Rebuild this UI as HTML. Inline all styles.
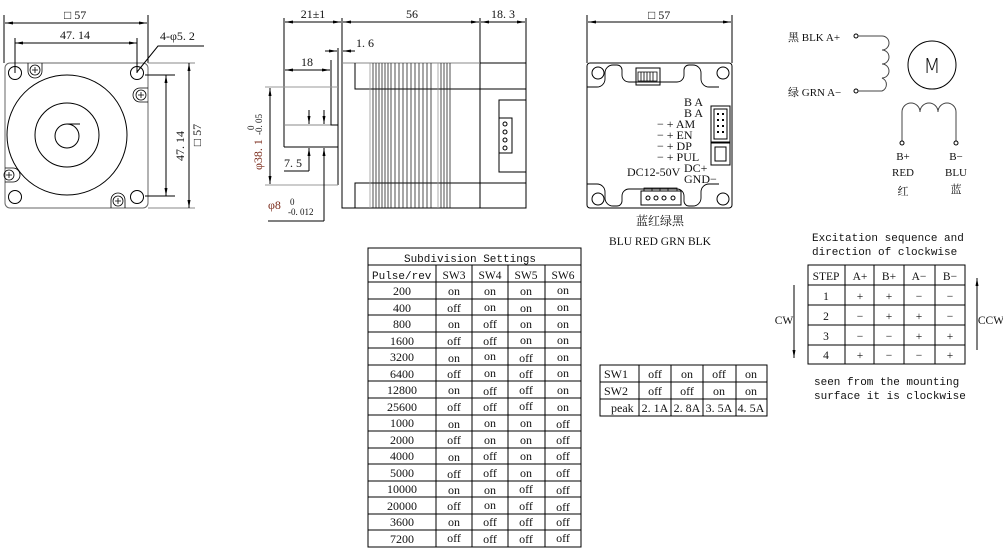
<!DOCTYPE html>
<html><head><meta charset="utf-8"><style>
html,body{margin:0;padding:0;background:#fff;}
svg{display:block;}
text{font-family:"Liberation Serif","Noto Serif CJK SC",serif;fill:#111;}
.m{font-family:"Liberation Mono","Noto Sans CJK SC",monospace;}
</style></head><body>
<svg width="1003" height="550" viewBox="0 0 1003 550" xmlns="http://www.w3.org/2000/svg">
<defs>
<marker id="a" markerWidth="8" markerHeight="6" refX="8" refY="3" orient="auto-start-reverse" markerUnits="userSpaceOnUse"><path d="M0,1.5 L8,3 L0,4.5z" fill="#000"/></marker>
</defs>
<g stroke="#000" fill="none" stroke-width="1">
<rect x="5" y="63" width="143" height="145" rx="5" stroke="#666"/>
<circle cx="15" cy="73" r="6.5"/><circle cx="137" cy="73" r="6.5"/><circle cx="15" cy="197" r="6.5"/><circle cx="137" cy="197" r="6.5"/>
<circle cx="67" cy="135" r="60"/><circle cx="67" cy="135" r="32"/><circle cx="67" cy="136" r="12"/>
<line x1="67" y1="124" x2="80" y2="124"/>
<g stroke-width="0.8"><circle cx="35" cy="70" r="5"/><circle cx="141" cy="95" r="5"/><circle cx="9" cy="175" r="5"/><circle cx="118" cy="201" r="5"/>
<path d="M28,63 v8 a7 7 0 0 0 14 0 v-8 M148,88 h-8 a7 7 0 0 0 0 14 h8 M5,168 h8 a7 7 0 0 1 0 14 h-8 M111,208 v-8 a7 7 0 0 1 14 0 v8"/>
<path d="M32,70h6M35,67v6M138,95h6M141,92v6M6,175h6M9,172v6M115,201h6M118,198v6"/></g>
<line x1="4" y1="15" x2="4" y2="63"/><line x1="148" y1="15" x2="148" y2="63"/>
<line x1="5" y1="23" x2="147" y2="23" marker-start="url(#a)" marker-end="url(#a)"/>
<line x1="15" y1="38" x2="15" y2="73"/><line x1="137" y1="38" x2="137" y2="73"/>
<line x1="15" y1="43" x2="137" y2="43" marker-start="url(#a)" marker-end="url(#a)"/>
<polyline points="137,72 158,46 204,46"/>
<line x1="145" y1="75" x2="175" y2="75"/><line x1="145" y1="196" x2="175" y2="196"/>
<line x1="166" y1="75" x2="166" y2="196" marker-start="url(#a)" marker-end="url(#a)"/>
<line x1="148" y1="63" x2="195" y2="63" stroke="#888"/><line x1="148" y1="208" x2="195" y2="208" stroke="#888"/>
<line x1="189" y1="63" x2="189" y2="208" marker-start="url(#a)" marker-end="url(#a)"/>

<line x1="284" y1="18" x2="284" y2="147"/><line x1="342" y1="18" x2="342" y2="63"/><line x1="480" y1="18" x2="480" y2="208"/><line x1="526" y1="18" x2="526" y2="63"/>
<line x1="285" y1="22" x2="341" y2="22" marker-start="url(#a)" marker-end="url(#a)"/>
<line x1="343" y1="22" x2="479" y2="22" marker-start="url(#a)" marker-end="url(#a)"/>
<line x1="481" y1="22" x2="525" y2="22" marker-start="url(#a)" marker-end="url(#a)"/>
<line x1="338" y1="48" x2="338" y2="185"/>
<line x1="325" y1="51" x2="337" y2="51" marker-end="url(#a)"/><line x1="355" y1="51" x2="343" y2="51" marker-end="url(#a)"/>
<rect x="342" y="63" width="184" height="145"/>
<line x1="342" y1="63" x2="480" y2="63" stroke="#888"/>
<polyline points="355,63 355,89 526,89"/><polyline points="355,208 355,183 526,183"/>
<g stroke-width="0.8" stroke="#222">
<line x1="370" y1="63" x2="370" y2="208" stroke="#999"/>
<line x1="373" y1="63" x2="373" y2="208"/><line x1="376" y1="63" x2="376" y2="208"/><line x1="379" y1="63" x2="379" y2="208"/><line x1="382" y1="63" x2="382" y2="208"/><line x1="385" y1="63" x2="385" y2="208"/><line x1="388" y1="63" x2="388" y2="208"/><line x1="391" y1="63" x2="391" y2="208"/><line x1="395" y1="63" x2="395" y2="208"/><line x1="399" y1="63" x2="399" y2="208"/><line x1="403" y1="63" x2="403" y2="208"/><line x1="407" y1="63" x2="407" y2="208"/><line x1="411" y1="63" x2="411" y2="208"/><line x1="415" y1="63" x2="415" y2="208"/><line x1="419" y1="63" x2="419" y2="208"/><line x1="423" y1="63" x2="423" y2="208"/><line x1="427" y1="63" x2="427" y2="208"/><line x1="431" y1="63" x2="431" y2="208"/><line x1="438" y1="63" x2="438" y2="208" stroke="#999"/><line x1="441" y1="63" x2="441" y2="208"/><line x1="444" y1="63" x2="444" y2="208"/><line x1="447" y1="63" x2="447" y2="208"/><line x1="450" y1="63" x2="450" y2="208"/>
</g>
<polyline points="526,100 499,100 499,172 526,172"/>
<rect x="499" y="118" width="13" height="35"/>
<circle cx="505" cy="124" r="2"/><circle cx="505" cy="132" r="2"/><circle cx="505" cy="140" r="2"/><circle cx="505" cy="148" r="2"/>
<polyline points="284,147 338,147"/><line x1="284" y1="125" x2="331" y2="125" stroke="#888"/>
<polyline points="331,60 331,125 338,125"/>
<line x1="285" y1="70" x2="330" y2="70" marker-start="url(#a)" marker-end="url(#a)"/>
<line x1="265" y1="87" x2="338" y2="87" stroke="#999"/><line x1="265" y1="185" x2="338" y2="185" stroke="#999"/>
<line x1="270" y1="88" x2="270" y2="184" marker-start="url(#a)" marker-end="url(#a)"/>
<line x1="309" y1="110" x2="309" y2="124" marker-end="url(#a)"/><line x1="309" y1="171" x2="309" y2="148" marker-end="url(#a)"/>
<line x1="324" y1="110" x2="324" y2="124" marker-end="url(#a)"/><line x1="324" y1="221" x2="324" y2="148" marker-end="url(#a)"/>
<line x1="284" y1="171" x2="309" y2="171"/><line x1="268" y1="221" x2="324" y2="221"/>

<line x1="587" y1="15" x2="587" y2="63"/><line x1="732" y1="15" x2="732" y2="63"/>
<line x1="588" y1="22" x2="731" y2="22" marker-start="url(#a)" marker-end="url(#a)"/>
<rect x="587" y="63" width="145" height="145" rx="3"/>
<path d="M587,87 h10 a8 8 0 0 0 8 -8 v-6 a8 8 0 0 1 8 -8 h4 a5 5 0 0 1 5 5 v5 a7 7 0 0 0 7 7 h48 a7 7 0 0 0 7 -7 v-5 a5 5 0 0 1 5 -5 h4 a8 8 0 0 1 8 8 v6 a8 8 0 0 0 8 8 h10" stroke-width="0.9"/>
<path d="M587,184 h10 a8 8 0 0 1 8 8 v6 a8 8 0 0 0 8 8 h4 a5 5 0 0 0 5 -5 v-5 a7 7 0 0 1 7 -7 h48 a7 7 0 0 1 7 7 v5 a5 5 0 0 0 5 5 h4 a8 8 0 0 0 8 -8 v-6 a8 8 0 0 1 8 -8 h10" stroke-width="0.9"/>
<circle cx="598" cy="73" r="6"/><circle cx="723" cy="73" r="6"/><circle cx="598" cy="199" r="6"/><circle cx="723" cy="199" r="6"/>
<rect x="636" y="68" width="24" height="17"/>
<path d="M638,72h19v9h-19z M641,72v9 M644,72v9 M647,72v9 M650,72v9 M653,72v9" stroke-width="0.8"/>
<rect x="711" y="106" width="19" height="36"/><rect x="714" y="109" width="13" height="30"/>
<g fill="#000" stroke="none"><rect x="717" y="113" width="2" height="2"/><rect x="722" y="113" width="2" height="2"/><rect x="717" y="119" width="2" height="2"/><rect x="722" y="119" width="2" height="2"/><rect x="717" y="125" width="2" height="2"/><rect x="722" y="125" width="2" height="2"/><rect x="717" y="131" width="2" height="2"/><rect x="722" y="131" width="2" height="2"/></g>
<rect x="711" y="143" width="19" height="22"/><rect x="715" y="147" width="11" height="14"/>
<rect x="641" y="191" width="40" height="14"/>
<circle cx="648" cy="198" r="2"/><circle cx="656" cy="198" r="2"/><circle cx="664" cy="198" r="2"/><circle cx="673" cy="198" r="2"/>
<path d="M644,191v-3h8v3 M652,191v-3h8v3 M660,191v-3h8v3 M668,191v-3h9v3" stroke-width="0.8"/>

<circle cx="856" cy="36" r="2"/><circle cx="856" cy="91" r="2"/>
<path d="M858,36 H882 a7 7 0 0 1 0 14 a7 7 0 0 1 0 14 a7 7 0 0 1 0 14 a7 7 0 0 1 0 13 H858" stroke="#444"/>
<circle cx="932" cy="65" r="24"/>
<path d="M902,141 V112 a9 9 0 0 1 18 0 a9 9 0 0 1 18 0 a9 9 0 0 1 18 0 V141" stroke="#444"/>
<circle cx="902" cy="143" r="2"/><circle cx="956" cy="143" r="2"/>

<rect x="808" y="265" width="157" height="99"/>
<line x1="808" y1="285" x2="965" y2="285"/><line x1="808" y1="305" x2="965" y2="305"/><line x1="808" y1="325" x2="965" y2="325"/><line x1="808" y1="345" x2="965" y2="345"/>
<line x1="845" y1="265" x2="845" y2="364"/><line x1="874" y1="265" x2="874" y2="364"/><line x1="904" y1="265" x2="904" y2="364"/><line x1="935" y1="265" x2="935" y2="364"/>
<line x1="794" y1="285" x2="794" y2="358" marker-end="url(#a)"/>
<line x1="977" y1="350" x2="977" y2="278" marker-end="url(#a)"/>

<rect x="368" y="248" width="213" height="299"/>
<line x1="368" y1="265" x2="581" y2="265"/>
<line x1="436" y1="265" x2="436" y2="547"/><line x1="472" y1="265" x2="472" y2="547"/><line x1="508" y1="265" x2="508" y2="547"/><line x1="545" y1="265" x2="545" y2="547"/>
<rect x="600" y="365" width="167" height="51"/>
<line x1="600" y1="382" x2="767" y2="382"/><line x1="600" y1="399" x2="767" y2="399"/>
<line x1="639" y1="365" x2="639" y2="416"/><line x1="671" y1="365" x2="671" y2="416"/><line x1="703" y1="365" x2="703" y2="416"/><line x1="736" y1="365" x2="736" y2="416"/>
</g>
<g stroke="#000" stroke-width="1">
<line x1="368" y1="282" x2="581" y2="282"/><line x1="368" y1="299" x2="581" y2="299"/><line x1="368" y1="315" x2="581" y2="315"/><line x1="368" y1="332" x2="581" y2="332"/><line x1="368" y1="348" x2="581" y2="348"/><line x1="368" y1="365" x2="581" y2="365"/><line x1="368" y1="381" x2="581" y2="381"/><line x1="368" y1="398" x2="581" y2="398"/><line x1="368" y1="415" x2="581" y2="415"/><line x1="368" y1="431" x2="581" y2="431"/><line x1="368" y1="448" x2="581" y2="448"/><line x1="368" y1="464" x2="581" y2="464"/><line x1="368" y1="481" x2="581" y2="481"/><line x1="368" y1="497" x2="581" y2="497"/><line x1="368" y1="514" x2="581" y2="514"/><line x1="368" y1="530" x2="581" y2="530"/>
</g>

<g font-size="12">
<text x="64" y="19">□ 57</text>
<text x="60" y="39">47. 14</text>
<text x="160" y="40">4-φ5. 2</text>
<text transform="translate(184,146) rotate(-90)" text-anchor="middle">47. 14</text>
<text transform="translate(201,135) rotate(-90)" text-anchor="middle">□ 57</text>
<text x="313" y="18" text-anchor="middle">21±1</text>
<text x="412" y="18" text-anchor="middle">56</text>
<text x="503" y="18" text-anchor="middle">18. 3</text>
<text x="356" y="47">1. 6</text>
<text x="307" y="66" text-anchor="middle">18</text>
<text x="284" y="167">7. 5</text>
<text transform="translate(262,170) rotate(-90)" style="fill:#7a2a1a">φ38. 1</text>
<text transform="translate(254,130) rotate(-90)" font-size="9">0</text>
<text transform="translate(262,135) rotate(-90)" font-size="9">-0. 05</text>
<text x="268" y="209" style="fill:#7a2a1a">φ8</text>
<text x="290" y="205" font-size="9">0</text>
<text x="288" y="215" font-size="9">-0. 012</text>
<text x="648" y="19">□ 57</text>
<text x="684" y="106">B A</text>
<text x="684" y="117">B A</text>
<text x="657" y="128">− + AM</text>
<text x="657" y="139">− + EN</text>
<text x="657" y="150">− + DP</text>
<text x="657" y="161">− + PUL</text>
<text x="684" y="172">DC+</text>
<text x="627" y="176">DC12-50V</text>
<text x="684" y="183">GND−</text>
<text x="660" y="225" text-anchor="middle">蓝红绿黑</text>
<text x="660" y="245" text-anchor="middle" font-size="11.5">BLU RED GRN BLK</text>
<text x="788" y="41" font-size="11">黑 BLK A+</text>
<text x="788" y="96" font-size="11">绿 GRN A−</text>
<text x="932" y="73" text-anchor="middle" font-size="20" style="font-family:'DejaVu Sans',sans-serif;font-weight:200">M</text>
<text x="903" y="160" text-anchor="middle" font-size="11">B+</text>
<text x="903" y="176" text-anchor="middle" font-size="11">RED</text>
<text x="903" y="195" text-anchor="middle" font-size="11">红</text>
<text x="956" y="160" text-anchor="middle" font-size="11">B−</text>
<text x="956" y="176" text-anchor="middle" font-size="11">BLU</text>
<text x="956" y="193" text-anchor="middle" font-size="11">蓝</text>
</g>
<g class="m" font-size="11">
<text x="812" y="241" class="m">Excitation sequence and</text>
<text x="812" y="255" class="m">direction of clockwise</text>
<text x="814" y="385" class="m">seen from the mounting</text>
<text x="814" y="399" class="m">surface it is clockwise</text>
<text x="470" y="262" text-anchor="middle" class="m">Subdivision Settings</text>
<text x="372" y="279" class="m">Pulse/rev</text>
</g>
<g font-size="11.5" text-anchor="middle">
<text x="826" y="280">STEP</text><text x="860" y="280">A+</text><text x="889" y="280">B+</text><text x="919" y="280">A−</text><text x="950" y="280">B−</text>
<text x="826" y="300">1</text><text x="860" y="300">+</text><text x="889" y="300">+</text><text x="919" y="300">−</text><text x="950" y="300">−</text>
<text x="826" y="320">2</text><text x="860" y="320">−</text><text x="889" y="320">+</text><text x="919" y="320">+</text><text x="950" y="320">−</text>
<text x="826" y="340">3</text><text x="860" y="340">−</text><text x="889" y="340">−</text><text x="919" y="340">+</text><text x="950" y="340">+</text>
<text x="826" y="359">4</text><text x="860" y="359">+</text><text x="889" y="359">−</text><text x="919" y="359">−</text><text x="950" y="359">+</text>
<text x="784" y="324">CW</text><text x="991" y="324">CCW</text>
<text x="454" y="279">SW3</text><text x="490" y="279">SW4</text><text x="526" y="279">SW5</text><text x="563" y="279">SW6</text>
</g>
<g font-size="12" text-anchor="middle">
<text x="402" y="295">200</text><text x="454" y="295">on</text><text x="490" y="295">on</text><text x="526" y="295">on</text><text x="563" y="294">on</text>
<text x="402" y="312">400</text><text x="454" y="312">off</text><text x="490" y="311">on</text><text x="526" y="312">on</text><text x="563" y="311">on</text>
<text x="402" y="328">800</text><text x="454" y="328">on</text><text x="490" y="328">off</text><text x="526" y="328">on</text><text x="563" y="328">on</text>
<text x="402" y="345">1600</text><text x="454" y="345">off</text><text x="490" y="345">off</text><text x="526" y="344">on</text><text x="563" y="344">on</text>
<text x="402" y="361">3200</text><text x="454" y="362">on</text><text x="490" y="360">on</text><text x="526" y="362">off</text><text x="563" y="361">on</text>
<text x="402" y="378">6400</text><text x="454" y="378">off</text><text x="490" y="377">on</text><text x="526" y="378">off</text><text x="563" y="377">on</text>
<text x="402" y="394">12800</text><text x="454" y="394">on</text><text x="490" y="395">off</text><text x="526" y="394">off</text><text x="563" y="394">on</text>
<text x="402" y="411">25600</text><text x="454" y="411">off</text><text x="490" y="411">off</text><text x="526" y="410">off</text><text x="563" y="411">on</text>
<text x="402" y="427">1000</text><text x="454" y="428">on</text><text x="490" y="427">on</text><text x="526" y="427">on</text><text x="563" y="428">off</text>
<text x="402" y="444">2000</text><text x="454" y="444">off</text><text x="490" y="444">on</text><text x="526" y="444">on</text><text x="563" y="444">off</text>
<text x="402" y="460">4000</text><text x="454" y="461">on</text><text x="490" y="460">off</text><text x="526" y="460">on</text><text x="563" y="460">off</text>
<text x="402" y="477">5000</text><text x="454" y="478">off</text><text x="490" y="477">off</text><text x="526" y="477">on</text><text x="563" y="477">off</text>
<text x="402" y="493">10000</text><text x="454" y="494">on</text><text x="490" y="494">on</text><text x="526" y="493">off</text><text x="563" y="494">off</text>
<text x="402" y="510">20000</text><text x="454" y="510">off</text><text x="490" y="509">on</text><text x="526" y="510">off</text><text x="563" y="511">off</text>
<text x="402" y="526">3600</text><text x="454" y="526">on</text><text x="490" y="526">off</text><text x="526" y="526">off</text><text x="563" y="526">off</text>
<text x="402" y="543">7200</text><text x="454" y="542">off</text><text x="490" y="543">off</text><text x="526" y="543">off</text><text x="563" y="542">off</text>
</g>
<g font-size="12">
<text x="604" y="378">SW1</text><text x="604" y="395">SW2</text><text x="611" y="412">peak</text>
<g text-anchor="middle">
<text x="655" y="378">off</text><text x="687" y="378">on</text><text x="719" y="378">off</text><text x="751" y="378">on</text>
<text x="655" y="395">off</text><text x="687" y="395">off</text><text x="719" y="395">on</text><text x="751" y="395">on</text>
<text x="655" y="412">2. 1A</text><text x="687" y="412">2. 8A</text><text x="719" y="412">3. 5A</text><text x="751" y="412">4. 5A</text>
</g></g>
</svg>
</body></html>
